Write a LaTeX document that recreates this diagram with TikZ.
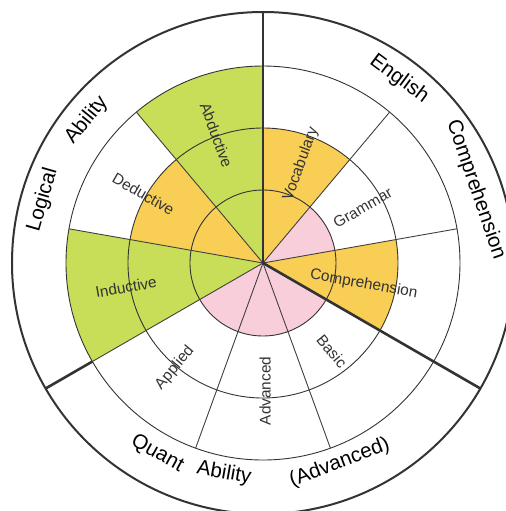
\documentclass[tikz,border=0pt]{standalone}
\usepackage{fontspec}
\setmainfont{Liberation Sans}
\usepackage{xcolor}
\definecolor{skillgreen}{RGB}{200,222,88}
\definecolor{skillorange}{RGB}{249,206,85}
\definecolor{skillpink}{RGB}{248,206,218}
\tikzset{
  ring/.style    = {draw=black!80, line width=0.45pt},
  rim/.style     = {draw=black!80, line width=1pt},
  spoke/.style   = {draw=black!75, line width=0.45pt},
  divider/.style = {draw=black!80, line width=1.3pt},
  sub/.style     = {font=\fontsize{7.7}{9}\selectfont, text=black!80, inner sep=0pt},
  area/.style    = {font=\fontsize{10.3}{12}\selectfont, inner sep=0pt},
}

\begin{document}
\begin{tikzpicture}[x=0.5pt, y=0.5pt]
    \clip (-263,-248) rectangle (243,263);
    % coloured sectors: from angle / to angle / radius / colour
    \foreach \a/\b/\r/\c in {90/130/197/skillgreen, 130/170/135/skillorange,
        170/210/197/skillgreen, 50/90/135/skillorange, 10/50/73/skillpink,
        -30/10/135/skillorange, -150/-30/73/skillpink}
      \fill[\c] (0,0) -- (\a:\r) arc[start angle=\a, end angle=\b, radius=\r] -- cycle;
    % rings
    \foreach \r in {73,135,197}
      \draw[ring] (0,0) circle[radius=\r];
    \draw[rim] (0,0) circle[radius=251];
    % spokes
    \foreach \a in {10,50,130,170,210,250,290}
      \draw[spoke] (0,0) -- (\a:197);
    \draw[divider] (0,0) -- (90:251);
    \draw[divider] (0,0) -- (-30:251);
    \draw[divider] (210:197) -- (210:251);
    % skill labels
    \node[sub, rotate=-70] (abd)   at (110:136) {Abductive};
    \node[sub, rotate=-30] (ded)   at (150:138) {Deductive};
    \node[sub, rotate=10]  (ind)   at (190:139) {Inductive};
    \node[sub, rotate=70]  (voc)   at (69:106)  {Vocabulary};
    \node[sub, rotate=30]  (gram)  at (29:114)  {Grammar};
    \node[sub, rotate=-10] (comp)  at (-12:103) {Comprehension};
    \node[sub, rotate=50]  (appl)  at (230:137) {Applied};
    \node[sub, rotate=90]  (adv)   at (271:128) {Advanced};
    \node[sub, rotate=-50] (basic) at (-52:112) {Basic};
    % area labels
    \node[area, rotate=74]    (logic)    at (164:229)   {Logical};
    \node[area, rotate=51]    (logicab)  at (141:227)   {Ability};
    \node[area, rotate=-36.5] (eng)      at (53.5:229)  {English};
    \node[area, rotate=-71]   (engcomp)  at (19:225)    {Comprehension};
    \node[area, rotate=-29]   (quant)    at (241:218)   {Quant};
    \node[area, rotate=-10]   (quantab)  at (259.5:214) {Ability};
    \node[area, rotate=21]    (quantadv) at (291:214)   {(Advanced)};
\end{tikzpicture}
\end{document}
